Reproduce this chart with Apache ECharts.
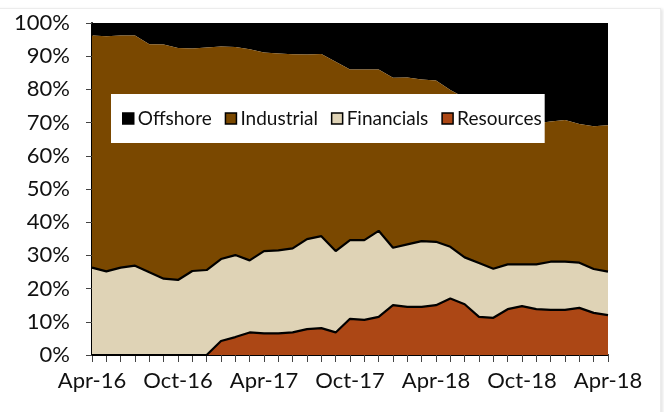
<!DOCTYPE html>
<html>
<head>
<meta charset="utf-8">
<script src="https://cdn.jsdelivr.net/npm/echarts@6/dist/echarts.min.js"></script>
<style>
  html, body { margin: 0; padding: 0; background: #fff; overflow: hidden; }
  #card { position: absolute; left: -6px; top: 8px; width: 665px; height: 420px; border: 1px solid #ececec; box-shadow: 2px 1px 3px rgba(0,0,0,0.10); background: #fff; }
  #chart { position: absolute; left: 0; top: 0; width: 664px; height: 412px; }
</style>
</head>
<body>
<div id="card"></div>
<div id="chart"></div>
<script>
// Categories (monthly, Apr-16 .. Apr-19)
const months = ['Apr-16','May-16','Jun-16','Jul-16','Aug-16','Sep-16','Oct-16','Nov-16','Dec-16','Jan-17','Feb-17','Mar-17',
  'Apr-17','May-17','Jun-17','Jul-17','Aug-17','Sep-17','Oct-17','Nov-17','Dec-17','Jan-18','Feb-18','Mar-18',
  'Apr-18','May-18','Jun-18','Jul-18','Aug-18','Sep-18','Oct-18','Nov-18','Dec-18','Jan-19','Feb-19','Mar-19','Apr-19'];
// Tick labels as printed on the original chart (every 6th month)
const tickLabels = ['Apr-16','Oct-16','Apr-17','Oct-17','Apr-18','Oct-18','Apr-18'];
const yTicks = [0,10,20,30,40,50,60,70,80,90,100];

// Series values (% of total)
const resources  = [0,0,0,0,0,0,0,0,0,4.2,5.4,6.8,6.5,6.5,6.8,7.8,8.1,6.8,10.9,10.6,11.5,15.0,14.5,14.5,15.0,17.0,15.3,11.5,11.2,13.8,14.7,13.8,13.6,13.6,14.2,12.7,12.0];
const financials = [26.3,25.2,26.3,26.9,24.9,23.0,22.6,25.3,25.6,24.7,24.7,21.7,24.8,25.0,25.3,27.1,27.7,24.5,23.7,24.0,25.9,17.3,18.8,19.8,19.1,15.6,14.1,16.2,14.8,13.5,12.6,13.5,14.5,14.5,13.6,13.2,13.1];
const industrial = [69.9,70.8,69.9,69.3,68.7,70.5,69.9,67.0,67.0,64.0,62.7,63.6,59.8,59.3,58.5,55.6,54.9,57.0,51.4,51.4,48.6,51.2,50.3,48.7,48.6,47.2,48.1,47.3,47.0,44.2,43.2,42.5,42.2,42.7,41.8,43.0,44.1];
const offshore   = [3.8,4.0,3.8,3.8,6.4,6.5,7.5,7.7,7.4,7.1,7.2,7.9,8.9,9.2,9.4,9.5,9.3,11.7,14.0,14.0,14.0,16.5,16.4,17.0,17.3,20.2,22.5,25.0,27.0,28.5,29.5,30.2,29.7,29.2,30.4,31.1,30.8];

const FONT = 'Lato';
const colors = { Offshore: '#000000', Industrial: '#7A4800', Financials: '#DFD3B6', Resources: '#AC4715' };

function areaSeries(name, data, z, lineW) {
  return {
    name: name, type: 'line', stack: 'total', data: data, z: z,
    symbol: 'none', showSymbol: false, smooth: false,
    color: colors[name],
    lineStyle: { color: '#000', width: lineW },
    areaStyle: { color: colors[name], opacity: 1 },
    emphasis: { disabled: true }
  };
}

const chart = echarts.init(document.getElementById('chart'), null, { renderer: 'canvas' });
chart.setOption({
  backgroundColor: 'transparent',
  animation: false,
  grid: { left: 92, right: 56, top: 23, bottom: 57, containLabel: false, show: false },
  legend: {
    data: ['Offshore','Industrial','Financials','Resources'],
    z: 100, zlevel: 1,
    left: 111, top: 94,
    padding: [15, 3, 15, 11],
    backgroundColor: '#fff',
    icon: 'rect', itemWidth: 11, itemHeight: 11, itemGap: 13,
    itemStyle: { borderColor: '#000', borderWidth: 1.5 },
    textStyle: { fontFamily: FONT, fontSize: 19, color: '#111', padding: [0, 0, 0, -1] },
    selectedMode: false
  },
  xAxis: {
    type: 'category', data: months, boundaryGap: false,
    axisLine: { show: true, lineStyle: { color: '#000', width: 2 } },
    axisTick: { show: true, interval: 0, length: 7, lineStyle: { color: '#444', width: 1 } },
    axisLabel: {
      interval: 0, margin: 15, fontFamily: FONT, fontSize: 22, color: '#111',
      formatter: function (v, idx) { return idx % 6 === 0 ? tickLabels[idx / 6] : ''; }
    },
    splitLine: { show: false }
  },
  yAxis: {
    type: 'value', min: yTicks[0], max: yTicks[yTicks.length - 1], interval: yTicks[1] - yTicks[0],
    axisLine: { show: true, lineStyle: { color: '#000', width: 2 } },
    axisTick: { show: true, length: 6, lineStyle: { color: '#444', width: 1 } },
    axisLabel: { margin: 22, fontFamily: FONT, fontSize: 22, color: '#111', formatter: '{value}%' },
    splitLine: { show: false }
  },
  series: [
    areaSeries('Resources', resources, 6, 2.2),
    areaSeries('Financials', financials, 5, 2.2),
    areaSeries('Industrial', industrial, 4, 0),
    areaSeries('Offshore', offshore, 3, 0)
  ]
});
</script>
</body>
</html>
